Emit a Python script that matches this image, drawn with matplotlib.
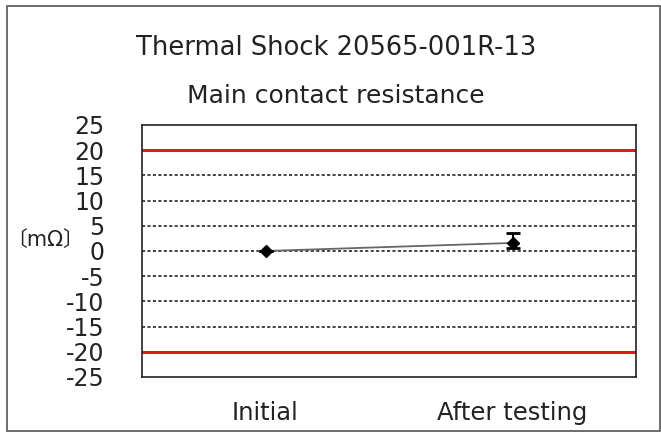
import matplotlib
matplotlib.use("Agg")
import matplotlib.pyplot as plt
from matplotlib.patches import Rectangle

categories = ["Initial", "After testing"]
mean_values = [0.0, 1.6]
max_values = [0.0, 3.6]
min_values = [0.0, 0.6]
y_ticks = [25, 20, 15, 10, 5, 0, -5, -10, -15, -20, -25]
limit_values = [20, -20]
dash_grid = [15, 10, 5, 0, -5, -10, -15]

plt.rcParams['font.family'] = ['DejaVu Sans', 'Noto Sans CJK JP']

fig = plt.figure(figsize=(6.61, 4.34), dpi=100)
fig.patches.append(Rectangle((7/661, 1-431/434), (660-7)/661, (431-6)/434,
                             transform=fig.transFigure, fill=False,
                             edgecolor='#555555', linewidth=1.2))

ax = fig.add_axes([142/661, 1-377/434, (636-142)/661, (377-125)/434])
ax.set_xlim(0, 2)
ax.set_ylim(-25, 25)
xs = [0.5, 1.5]

for v in dash_grid:
    ax.axhline(v, color='#444444', linewidth=1.4, linestyle=(0, (1.6, 1.2)), zorder=1)
for v in limit_values:
    ax.axhline(v, color='#e8141b', linewidth=2.2, zorder=2)

ax.plot(xs, mean_values, color='#666666', linewidth=1.3, zorder=3)
yerr_low = [m - lo for m, lo in zip(mean_values, min_values)]
yerr_high = [hi - m for m, hi in zip(mean_values, max_values)]
ax.errorbar(xs, mean_values, yerr=[yerr_low, yerr_high], fmt='D', color='black',
            markersize=6, capsize=5, elinewidth=1.5, capthick=2, zorder=4)

ax.set_yticks(y_ticks)
ax.set_yticklabels([str(v) for v in y_ticks], fontsize=17, color='#222222')
ax.set_xticks(xs)
ax.set_xticklabels(categories, fontsize=17.5, color='#222222')
ax.tick_params(axis='y', length=0, pad=27)
ax.tick_params(axis='x', length=0, pad=17)
for s in ax.spines.values():
    s.set_color('#222222')
    s.set_linewidth(1.2)

fig.text(336/661, 1-48/434, "Thermal Shock 20565-001R-13", ha='center', va='center',
         fontsize=18.5, color='#222222')
fig.text(336/661, 1-96/434, "Main contact resistance", ha='center', va='center',
         fontsize=18, color='#222222')
fig.text(45/661, 1-240/434, "〔mΩ〕", ha='center', va='center', fontsize=15,
         color='#222222')

fig.savefig("out.png", dpi=100)
